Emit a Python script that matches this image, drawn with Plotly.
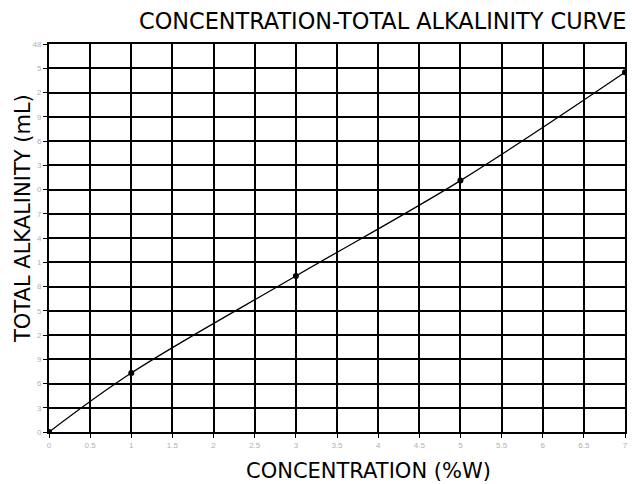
import plotly.graph_objects as go

conc = [0, 1, 3, 5, 7]
alk = [0, 7.3, 19.3, 31.1, 44.5]

x_ticks = [0, 0.5, 1, 1.5, 2, 2.5, 3, 3.5, 4, 4.5, 5, 5.5, 6, 6.5, 7]
x_ticktext = ["0", "0.5", "1", "1.5", "2", "2.5", "3", "3.5", "4", "4.5", "5", "5.5", "6", "6.5", "7"]
y_ticks = [0, 3, 6, 9, 12, 15, 18, 21, 24, 27, 30, 33, 36, 39, 42, 45, 48]
y_ticktext = ["0", "3", "6", "9", "2", "5", "8", "1", "4", "7", "0", "3", "6", "9", "2", "5", "48"]

font = "DejaVu Sans, Arial, sans-serif"
tick_font = "Liberation Sans, Arial, sans-serif"

fig = go.Figure()
fig.add_trace(go.Scatter(
    x=conc, y=alk, mode="lines+markers",
    line=dict(color="black", width=1.3, shape="spline"),
    marker=dict(color="black", size=6),
    showlegend=False,
))

axis_common = dict(
    showgrid=True, gridcolor="black", gridwidth=2,
    zeroline=False, showline=True, linecolor="black", linewidth=2,
    ticks="outside", ticklen=4, tickcolor="black", tickwidth=1,
    tickfont=dict(family=tick_font, size=8, color="#b0b0b0"),
    mirror=True,
)

fig.update_xaxes(range=[0, 7], tickvals=x_ticks, ticktext=x_ticktext, **axis_common)
fig.update_yaxes(range=[0, 48], tickvals=y_ticks, ticktext=y_ticktext, **axis_common)

fig.update_layout(
    width=632, height=484,
    margin=dict(l=49, r=4, t=44, b=52),
    plot_bgcolor="white", paper_bgcolor="white",
    font=dict(family=font, color="black"),
    annotations=[
        dict(text="CONCENTRATION-TOTAL ALKALINITY CURVE", xref="paper", yref="paper",
             x=1.0, xshift=3, y=1.0, yshift=23, xanchor="right", yanchor="middle",
             showarrow=False, font=dict(family=font, size=22.4, color="black")),
        dict(text="CONCENTRATION (%W)", xref="paper", yref="paper",
             x=0.554, y=0, yshift=-39, xanchor="center", yanchor="middle",
             showarrow=False, font=dict(family=font, size=21, color="black")),
        dict(text="TOTAL ALKALINITY (mL)", xref="paper", yref="paper",
             x=0, xshift=-26, y=0.549, xanchor="center", yanchor="middle", textangle=-90,
             showarrow=False, font=dict(family=font, size=21, color="black")),
    ],
)

fig.write_html("out.html", config={"displayModeBar": False},
               post_script="document.body.style.margin='0';document.body.style.overflow='hidden';")
